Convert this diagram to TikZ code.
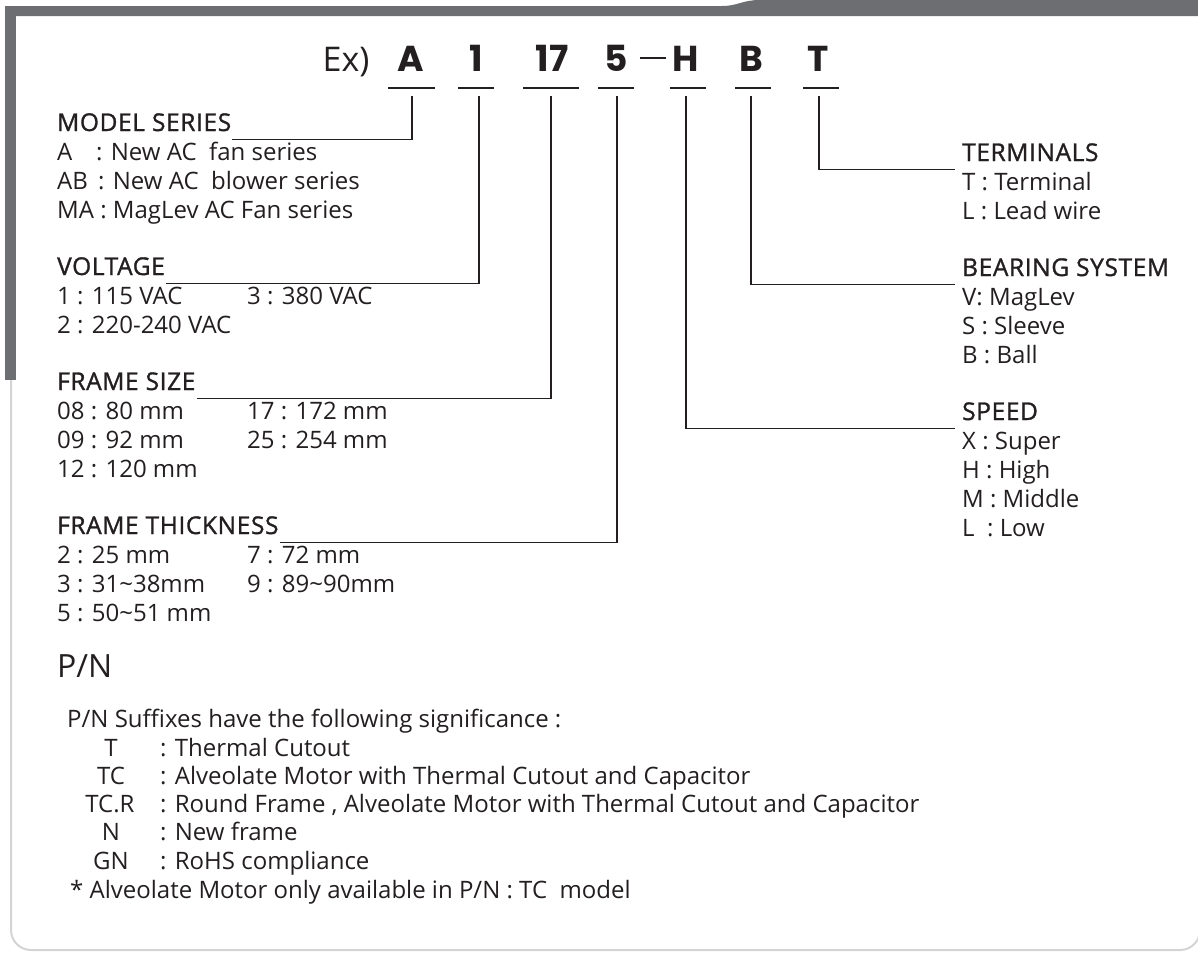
\documentclass[tikz,border=0pt]{standalone}
\usepackage{fontspec}
\setmainfont{Open Sans}
\newfontfamily\headfont{Open Sans}[FakeBold=1.2,LetterSpace=2.5]
\newfontfamily\bigfont{Poppins}
\definecolor{ink}{HTML}{231F20}
\definecolor{bar}{HTML}{6D6E71}
\definecolor{rim}{HTML}{D4D4D4}
\begin{document}
\begin{tikzpicture}[x=1pt,y=-1pt,
  txt/.style={anchor=base west,inner sep=0pt,text=ink,font=\fontsize{24}{24}\selectfont},
  head/.style={anchor=base west,inner sep=0pt,text=ink,font=\fontsize{24.5}{24}\selectfont\headfont},
  big/.style={anchor=base,inner sep=0pt,text=ink,font=\fontsize{36}{36}\selectfont\bigfont\bfseries},
  uline/.style={draw=ink,line width=2.4pt},
  conn/.style={draw=ink,line width=1.1pt},
  lbl/.style={anchor=base,inner sep=0pt,text=ink,font=\fontsize{24}{24}\selectfont}]
\useasboundingbox (0,0) rectangle (1198,953);
% frame
\fill[bar] (5,16) -- (5,6) -- (722,6) .. controls (738,6) and (742,0) .. (760,0) -- (1198,0) -- (1198,16) -- cycle;
\fill[bar] (5,6) rectangle (16,380);
\draw[rim,line width=2pt] (11,380) -- (11,930) arc[start angle=180,end angle=270,radius=20pt] -- (1180,950) arc[start angle=270,end angle=360,radius=20pt];
% example code
\node[anchor=base,inner sep=0pt,text=ink,font=\fontsize{34}{34}\selectfont] (ex) at (346,71) {Ex)};
\node[big] (lA) at (411,71) {A};
\node[big] (l1) at (476,71) {1};
\node[big] (l17) at (552,71) {17};
\node[big] (l5) at (616,71) {5};
\draw[ink,line width=2.6pt] (640,58) -- (666,58);
\node[big] (lH) at (686,71) {H};
\node[big] (lB) at (751,71) {B};
\node[big] (lT) at (818,71) {T};
\draw[uline] (388,88) -- (435,88);
\draw[uline] (458,88) -- (494,88);
\draw[uline] (523,88) -- (579,88);
\draw[uline] (598,88) -- (634,88);
\draw[uline] (670,88) -- (706,88);
\draw[uline] (735,88) -- (771,88);
\draw[uline] (803,88) -- (839,88);
\coordinate (cA) at (412,96);
\coordinate (c1) at (479,96);
\coordinate (c17) at (551,96);
\coordinate (c5) at (617,96);
\coordinate (cH) at (686,96);
\coordinate (cB) at (751,96);
\coordinate (cT) at (819,96);
% left column
\node[head] (hMS) at (57,131) {MODEL SERIES};
\node[txt] at (57,160) {A};
\node[txt] at (96,160) {: New AC\ \ fan series};
\node[txt] at (57,189) {AB};
\node[txt] at (98,189) {: New AC\ \ blower series};
\node[txt] at (57,218) {MA : MagLev AC Fan series};
\node[head] (hV) at (57,275) {VOLTAGE};
\node[txt] at (57,304) {1 : 115 VAC};
\node[txt] at (247,304) {3 : 380 VAC};
\node[txt] at (57,333) {2 : 220-240 VAC};
\node[head] (hFS) at (57,390) {FRAME SIZE};
\node[txt] at (57,419) {08 : 80 mm};
\node[txt] at (247,419) {17 : 172 mm};
\node[txt] at (57,448) {09 : 92 mm};
\node[txt] at (247,448) {25 : 254 mm};
\node[txt] at (57,477) {12 : 120 mm};
\node[head] (hFT) at (57,534) {FRAME THICKNESS};
\node[txt] at (57,563) {2 : 25 mm};
\node[txt] at (247,563) {7 : 72 mm};
\node[txt] at (57,592) {3 : 31\textasciitilde38mm};
\node[txt] at (247,592) {9 : 89\textasciitilde90mm};
\node[txt] at (57,621) {5 : 50\textasciitilde51 mm};
% right column
\node[head] (hT) at (962,161) {TERMINALS};
\node[txt] at (962,190) {T : Terminal};
\node[txt] at (962,219) {L : Lead wire};
\node[head] (hB) at (962,276) {BEARING SYSTEM};
\node[txt] at (962,305) {V: MagLev};
\node[txt] at (962,334) {S : Sleeve};
\node[txt] at (962,363) {B : Ball};
\node[head] (hS) at (962,420) {SPEED};
\node[txt] at (962,449) {X : Super};
\node[txt] at (962,478) {H : High};
\node[txt] at (962,507) {M : Middle};
\node[txt] at (962,536) {L\ \ : Low};
% connectors
\draw[conn,shorten <=1pt] ([yshift=-8.5pt]hMS.base east) -| (cA);
\draw[conn,shorten <=1pt] ([yshift=-8.5pt]hV.base east) -| (c1);
\draw[conn,shorten <=1pt] ([yshift=-8.5pt]hFS.base east) -| (c17);
\draw[conn,shorten <=1pt] ([yshift=-8.5pt]hFT.base east) -| (c5);
\draw[conn,shorten >=7pt] (cH) |- ([yshift=-8.5pt]hS.base west);
\draw[conn,shorten >=7pt] (cB) |- ([yshift=-8.5pt]hB.base west);
\draw[conn,shorten >=7pt] (cT) |- ([yshift=-8.5pt]hT.base west);
% P/N section
\node[anchor=base west,inner sep=0pt,text=ink,font=\fontsize{32}{32}\selectfont] (pn) at (57,677) {P/N};
\node[txt] at (67,727) {P/N Suffixes have the following significance :};
\node[lbl] at (111,756) {T};
\node[txt] at (160,756) {: Thermal Cutout};
\node[lbl] at (111,784) {TC};
\node[txt] at (160,784) {: Alveolate Motor with Thermal Cutout and Capacitor};
\node[lbl] at (110,812) {TC.R};
\node[txt] at (160,812) {: Round Frame , Alveolate Motor with Thermal Cutout and Capacitor};
\node[lbl] at (111,840) {N};
\node[txt] at (160,840) {: New frame};
\node[lbl] at (111,869) {GN};
\node[txt] at (160,869) {: RoHS compliance};
\node[txt] at (70,898) {* Alveolate Motor only available in P/N : TC\ \ model};
\end{tikzpicture}
\end{document}
